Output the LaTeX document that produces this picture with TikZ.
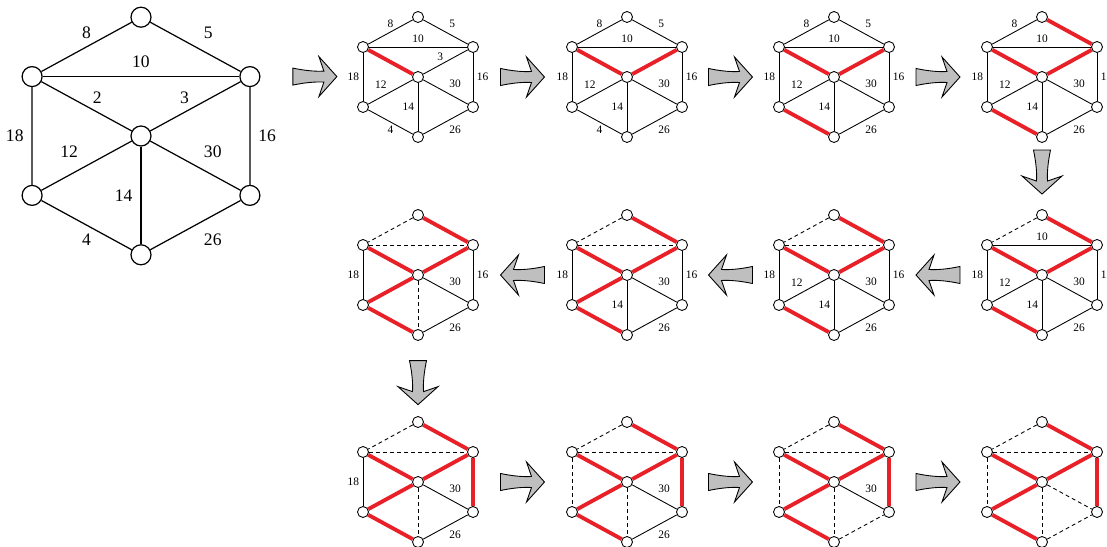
\documentclass[tikz,border=0pt]{standalone}
\usepackage{fontspec}
\setmainfont{Liberation Serif}
\usetikzlibrary{calc,backgrounds}

\definecolor{mstred}{RGB}{232,32,40}

\tikzset{
  vtx/.style={circle, draw, fill=white, minimum size=0.22cm, inner sep=0pt, line width=0.5pt},
  graphline/.style={line width=0.5pt},
  mstline/.style={draw=mstred, line width=2.2pt},
  cutline/.style={line width=0.5pt, dash pattern=on 2.2pt off 1.8pt},
  wt/.style={font=\fontsize{6.5}{7}\selectfont, inner sep=2pt},
  bigpanel/.style={scale=1.98,
    vtx/.append style={minimum size=0.4cm, line width=0.7pt},
    graphline/.append style={line width=0.7pt},
    wt/.append style={font=\fontsize{10}{12}\selectfont, inner sep=4.5pt}},
  arrowbody/.style={draw, fill=black!25, line width=0.5pt},
  fatarrow/.pic={
    \draw[arrowbody] (-22,-8.5) .. controls (-10,-6) and (0,-5) .. (9,-5.5)
      -- (4,-20) -- (22,0) -- (4,20) -- (9,5.5)
      .. controls (0,5) and (-10,6) .. (-22,8.5) -- cycle;}
}

% one panel: #2 name, #3 centre, #4 number of edges already decided
\newcommand\panel[4][]{%
  \begin{scope}[shift={(#3)},#1]
    \node[vtx] (#2T)  at (0,-60) {};
    \node[vtx] (#2UL) at (-55,-30) {};
    \node[vtx] (#2UR) at (55,-30) {};
    \node[vtx] (#2C)  at (0,0) {};
    \node[vtx] (#2LL) at (-55,30) {};
    \node[vtx] (#2LR) at (55,30) {};
    \node[vtx] (#2B)  at (0,60) {};
    \begin{scope}[on background layer]
      \foreach \na/\nb/\wgt/\pp/\where/\kind [count=\i] in {
          UL/C/2/.62/above/mstline, UR/C/3/.62/above/mstline,
          LL/B/4/.5/below/mstline, T/UR/5/.5/above right/mstline,
          T/UL/8/.5/above/cutline, UL/UR/10/.5/above/cutline,
          C/LL/12/.5/above left/mstline, C/B/14/.5/left/cutline,
          UR/LR/16/.5/right/mstline, UL/LL/18/.5/left/cutline,
          B/LR/26/.5/below right/cutline, C/LR/30/.5/above right/cutline}{
        \ifnum\i>#4\relax
          \draw[graphline] (#2\na) -- node[wt, pos=\pp, \where] {\wgt} (#2\nb);
        \else
          \draw[\kind] (#2\na) -- (#2\nb);
        \fi}
    \end{scope}
  \end{scope}}

\begin{document}
\begin{tikzpicture}[x=0.02cm, y=-0.02cm]
\useasboundingbox (0,0) rectangle (1107,547);

\panel[bigpanel]{g0}{141,136}{0}

% first row
\panel{g1}{418,77}{1}
\panel{g2}{627,77}{2}
\panel{g3}{834,77}{3}
\panel{g4}{1042,77}{4}

% second row, right to left
\panel{g5}{1042,275}{5}
\panel{g6}{834,275}{6}
\panel{g7}{627,275}{7}
\panel{g8}{418,275}{8}

% third row
\panel{g9}{418,482}{9}
\panel{g10}{627,482}{10}
\panel{g11}{834,482}{11}
\panel{g12}{1042,482}{12}

% arrows
\pic at ($(g0UR)+(65,0)$) {fatarrow};
\pic at ($(g1C)!.5!(g2C)$) {fatarrow};
\pic at ($(g2C)!.5!(g3C)$) {fatarrow};
\pic at ($(g3C)!.5!(g4C)$) {fatarrow};
\pic[rotate=-90] at ($(g4C)!.48!(g5C)$) {fatarrow};
\pic[rotate=180] at ($(g5C)!.5!(g6C)$) {fatarrow};
\pic[rotate=180] at ($(g6C)!.5!(g7C)$) {fatarrow};
\pic[rotate=180] at ($(g7C)!.5!(g8C)$) {fatarrow};
\pic[rotate=-90] at ($(g8C)!.52!(g9C)$) {fatarrow};
\pic at ($(g9C)!.5!(g10C)$) {fatarrow};
\pic at ($(g10C)!.5!(g11C)$) {fatarrow};
\pic at ($(g11C)!.5!(g12C)$) {fatarrow};

\end{tikzpicture}
\end{document}
